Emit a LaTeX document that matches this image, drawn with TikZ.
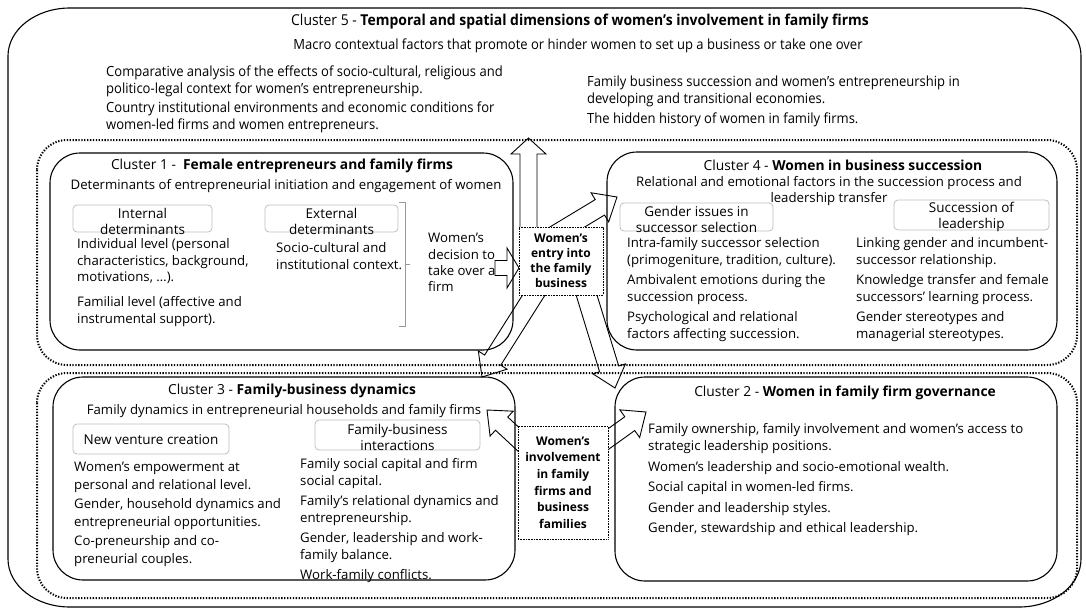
\documentclass[tikz,border=0pt]{standalone}
\usepackage{fontspec}
\setmainfont{Open Sans}
\newfontfamily\cfive[FakeStretch=0.93]{Open Sans}
\usetikzlibrary{calc}
\pgfdeclarelayer{back}
\pgfdeclarelayer{arrows}
\pgfsetlayers{back,arrows,main}
\tikzset{
  cbox/.style={draw=black, line width=1.1pt, rounded corners=30pt, inner sep=0pt, outer sep=0pt},
  grpbox/.style={draw=black, line width=2pt, dash pattern=on 1.3pt off 1.6pt, rounded corners=30pt},
  gbox/.style={draw=black!25, line width=0.8pt, rounded corners=4pt, inner sep=0pt},
  ebox/.style={draw=black, line width=0.7pt, dash pattern=on 0.8pt off 0.8pt, fill=white, align=center, inner sep=0pt, font=\bfseries\fontsize{12}{15}\selectfont},
  barr/.style={draw=black, line width=0.9pt, fill=white, line join=miter},
  body/.style={inner sep=0pt, align=left, anchor=north west, font=\fontsize{13.2}{17.5}\selectfont},
  ctitle/.style={inner sep=0pt, anchor=center, font=\fontsize{13.8}{15}\selectfont},
  csub/.style={inner sep=0pt, anchor=center, font=\fontsize{13.2}{15.5}\selectfont},
  lbl/.style={inner sep=0pt, align=center, font=\fontsize{13.5}{16}\selectfont},
  fivetxt/.style={inner sep=0pt, align=left, anchor=north west, font=\cfive\fontsize{14}{17}\selectfont},
  brk/.style={draw=black!40, line width=0.8pt}
}
\newcommand{\blockarrow}[5]{%
  \coordinate (hb) at ($(#2)!#5!(#1)$);
  \draw[barr] ($(#1)!#3!90:(#2)$) -- ($(hb)!#3!90:(#2)$) -- ($(hb)!#4!90:(#2)$) -- (#2)
     -- ($(hb)!#4!-90:(#2)$) -- ($(hb)!#3!-90:(#2)$) -- ($(#1)!#3!-90:(#2)$) -- cycle;}
\begin{document}
\begin{tikzpicture}[x=1pt,y=-1pt]
\useasboundingbox (0,0) rectangle (1086,610);
\begin{pgfonlayer}{back}
\fill[white] (0,0) rectangle (1086,610);
\end{pgfonlayer}

% outer cluster 5 frame
\draw[line width=1.1pt] (70,8) -- (1019,8)
  arc[start angle=90, end angle=0, x radius=62pt, y radius=48pt] -- (1081,559)
  arc[start angle=0, end angle=-90, x radius=62pt, y radius=48pt] -- (70,607)
  arc[start angle=-90, end angle=-180, x radius=62pt, y radius=48pt] -- (8,56)
  arc[start angle=180, end angle=90, x radius=62pt, y radius=48pt] -- cycle;

% dotted group frames
\draw[grpbox] (37,140) rectangle (1077,365);
\draw[grpbox] (37,373) rectangle (1077,598);

% cluster 5 texts
\node[inner sep=0pt, font=\cfive\fontsize{15}{17}\selectfont] (t5) at (580,22) {Cluster 5 - \textbf{Temporal and spatial dimensions of women’s involvement in family firms}};
\node[inner sep=0pt, font=\cfive\fontsize{14}{17}\selectfont] (m5) at (578,46) {Macro contextual factors that promote or hinder women to set up a business or take one over};
\node[fivetxt] (l5) at (106,66) {Comparative analysis of the effects of socio-cultural, religious and\\politico-legal context for women’s entrepreneurship.\\[2pt]Country institutional environments and economic conditions for\\women-led firms and women entrepreneurs.};
\node[fivetxt] (r5) at (587,76) {Family business succession and women’s entrepreneurship in\\developing and transitional economies.\\[3pt]The hidden history of women in family firms.};

% clusters
\node[cbox, minimum width=463pt, minimum height=197pt] (c1) at (281.5,251.5) {};
\node[cbox, minimum width=450pt, minimum height=198pt] (c4) at (832,251) {};
\node[cbox, minimum width=462pt, minimum height=203pt] (c3) at (284,478.5) {};
\node[cbox, minimum width=442pt, minimum height=204pt] (c2) at (836,479) {};

% central boxes
\node[ebox, minimum width=84pt, minimum height=68pt] (entry) at (561,261) {Women’s\\entry into\\the family\\business};
\node[ebox, minimum width=90pt, minimum height=113pt, font=\bfseries\fontsize{12}{16.6}\selectfont] (inv) at (563,482.5) {Women’s\\involvement\\in family\\firms and\\business\\families};

% ---- cluster 1
\node[ctitle] (t1) at (282,166) {Cluster 1 -\ \ \textbf{Female entrepreneurs and family firms}};
\node[csub] (s1) at (286,186) {Determinants of entrepreneurial initiation and engagement of women};
\node[gbox, minimum width=139pt, minimum height=27pt] (g1) at (142.5,218.5) {};
\node[lbl] (g1t) at (142.5,221) {Internal\\determinants};
\node[gbox, minimum width=133pt, minimum height=27pt] (g2) at (331.5,218.5) {};
\node[lbl] (g2t) at (331.5,221) {External\\determinants};
\node[body, font=\fontsize{13.2}{16.8}\selectfont] (i1) at (77,238) {Individual level (personal\\characteristics, background,\\motivations, …).\\[8pt]Familial level (affective and\\instrumental support).};
\node[body, font=\fontsize{13.2}{16.8}\selectfont] (x1) at (276,242) {Socio-cultural and\\institutional context.};
\draw[brk] (399,202) -- (405,202) -- (405,326) -- (399,326);
\draw[brk] (405,264) -- (410,264);
\node[body, font=\fontsize{13.2}{16.4}\selectfont] (d1) at (428,233) {Women’s\\decision to\\take over a\\firm};
\coordinate (decA) at (495,268);
\coordinate (decB) at (519,268);

% ---- cluster 4
\node[ctitle] (t4) at (843,165) {Cluster 4 - \textbf{Women in business succession}};
\node[csub, align=center] (s4) at (829,191) {Relational and emotional factors in the succession process and\\leadership transfer};
\node[gbox, minimum width=153pt, minimum height=28pt] (g4a) at (696.5,217) {};
\node[lbl] (g4at) at (696.5,219.5) {Gender issues in\\successor selection};
\node[gbox, minimum width=155pt, minimum height=30pt] (g4b) at (971.5,215) {};
\node[lbl] (g4bt) at (971.5,217) {Succession of\\leadership};
\node[body] (l4) at (627,237) {Intra-family successor selection\\(primogeniture, tradition, culture).\\[2pt]Ambivalent emotions during the\\succession process.\\[2pt]Psychological and relational\\factors affecting succession.};
\node[body] (r4) at (856,237) {Linking gender and incumbent-\\successor relationship.\\[2pt]Knowledge transfer and female\\successors’ learning process.\\[2pt]Gender stereotypes and\\managerial stereotypes.};

% ---- cluster 3
\node[ctitle] (t3) at (292,391) {Cluster 3 - \textbf{Family-business dynamics}};
\node[csub] (s3) at (284,411) {Family dynamics in entrepreneurial households and family firms};
\node[gbox, minimum width=156pt, minimum height=30pt] (g3a) at (151,439) {};
\node[lbl] (g3at) at (151,440) {New venture creation};
\node[gbox, minimum width=165pt, minimum height=30pt] (g3b) at (397.5,435) {};
\node[lbl] (g3bt) at (397.5,437) {Family-business\\interactions};
\node[body] (l3) at (74,462) {Women’s empowerment at\\personal and relational level.\\[2pt]Gender, household dynamics and\\entrepreneurial opportunities.\\[2pt]Co-preneurship and co-\\preneurial couples.};
\node[body] (r3) at (300,458) {Family social capital and firm\\social capital.\\[2pt]Family’s relational dynamics and\\entrepreneurship.\\[2pt]Gender, leadership and work-\\family balance.\\[2pt]Work-family conflicts.};

% ---- cluster 2
\node[ctitle] (t2) at (845,393) {Cluster 2 - \textbf{Women in family firm governance}};
\node[body] (l2) at (648,423) {Family ownership, family involvement and women’s access to\\strategic leadership positions.\\[3pt]Women’s leadership and socio-emotional wealth.\\[3pt]Social capital in women-led firms.\\[3pt]Gender and leadership styles.\\[3pt]Gender, stewardship and ethical leadership.};

% arrow end points
\coordinate (upA) at (528.5,232);
\coordinate (upB) at (528.5,138);
\coordinate (c4A) at (554,235);
\coordinate (c4B) at (617,197);
\coordinate (c3A) at (537,290);
\coordinate (c3B) at (482,377);
\coordinate (c2A) at (585,290);
\coordinate (c2B) at (615,388);
\coordinate (i3A) at (530,450);
\coordinate (i3B) at (487,410);
\coordinate (i2A) at (600,445);
\coordinate (i2B) at (646,412);

\begin{pgfonlayer}{arrows}
\blockarrow{upA}{upB}{8.5pt}{17.5pt}{16pt}
\blockarrow{c4A}{c4B}{9pt}{17pt}{20pt}
\blockarrow{c3A}{c3B}{9.5pt}{17pt}{20pt}
\blockarrow{c2A}{c2B}{10pt}{17pt}{20pt}
\blockarrow{i3A}{i3B}{9pt}{17pt}{20pt}
\blockarrow{i2A}{i2B}{8.5pt}{17pt}{20pt}
\blockarrow{decA}{decB}{7.5pt}{20pt}{12pt}
\end{pgfonlayer}
\end{tikzpicture}
\end{document}
